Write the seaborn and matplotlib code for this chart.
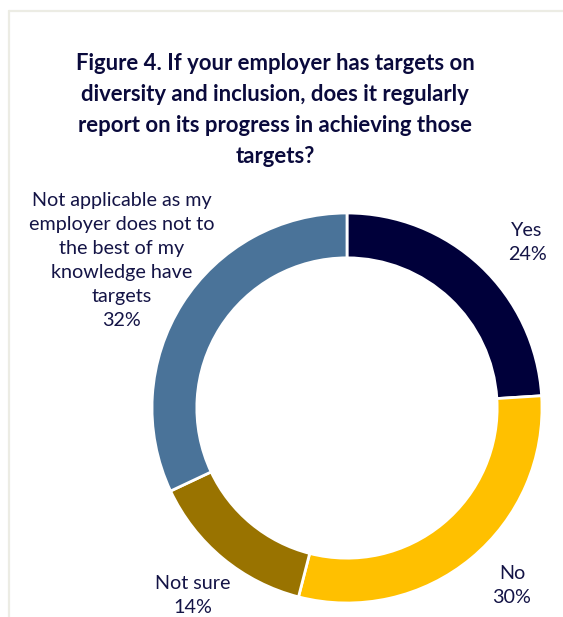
import matplotlib
matplotlib.use("Agg")
import matplotlib.pyplot as plt
from matplotlib.lines import Line2D
import seaborn as sns

# Survey answers, share of respondents (%)
categories = ["Yes", "No", "Not sure",
              "Not applicable as my\nemployer does not to\nthe best of my\nknowledge have\ntargets"]
shares = [24, 30, 14, 32]
slice_colors = ["#00003A", "#FFC000", "#997300", "#4A7399"]

title = ("Figure 4. If your employer has targets on\n"
         "diversity and inclusion, does it regularly\n"
         "report on its progress in achieving those\n"
         "targets?")

sns.set_theme(style="white")
plt.rcParams["font.family"] = ["Lato", "DejaVu Sans"]

W, H = 563, 617
fig = plt.figure(figsize=(W / 100, H / 100), dpi=100)
fig.patch.set_facecolor("white")

# light frame along the top and left edges
frame_col = "#ECECE4"
fig.add_artist(Line2D([8.5 / W, 1.0], [1 - 10.5 / H, 1 - 10.5 / H],
                      transform=fig.transFigure, color=frame_col, lw=1.6))
fig.add_artist(Line2D([8.5 / W, 8.5 / W], [0.0, 1 - 10.5 / H],
                      transform=fig.transFigure, color=frame_col, lw=1.6))

# donut: centre (347, 408) px, outer radius 195 px
cx, cy, r = 347, 408, 195
ax = fig.add_axes([(cx - r) / W, (H - cy - r) / H, 2 * r / W, 2 * r / H])
ax.pie(shares, colors=slice_colors, startangle=90, counterclock=False,
       radius=1.0,
       wedgeprops=dict(width=0.23, edgecolor="white", linewidth=2))
ax.set_xlim(-1, 1)
ax.set_ylim(-1, 1)
ax.set_aspect("equal")
ax.axis("off")

text_col = "#141446"
label_pos = [(0.923, 0.851), (0.846, -0.910), (-0.79, -0.962), (-1.154, 0.755)]
for name, val, (lx, ly) in zip(categories, shares, label_pos):
    ax.text(lx, ly, f"{name}\n{val}%", ha="center", va="center",
            fontsize=14.2, color=text_col, linespacing=1.5, clip_on=False)

fig.text(275 / W, 1 - 110 / H, title, ha="center", va="center",
         fontsize=15.9, fontweight="bold", color="#0A0A3C", linespacing=1.6)

fig.savefig("out.png", dpi=100, facecolor="white")
